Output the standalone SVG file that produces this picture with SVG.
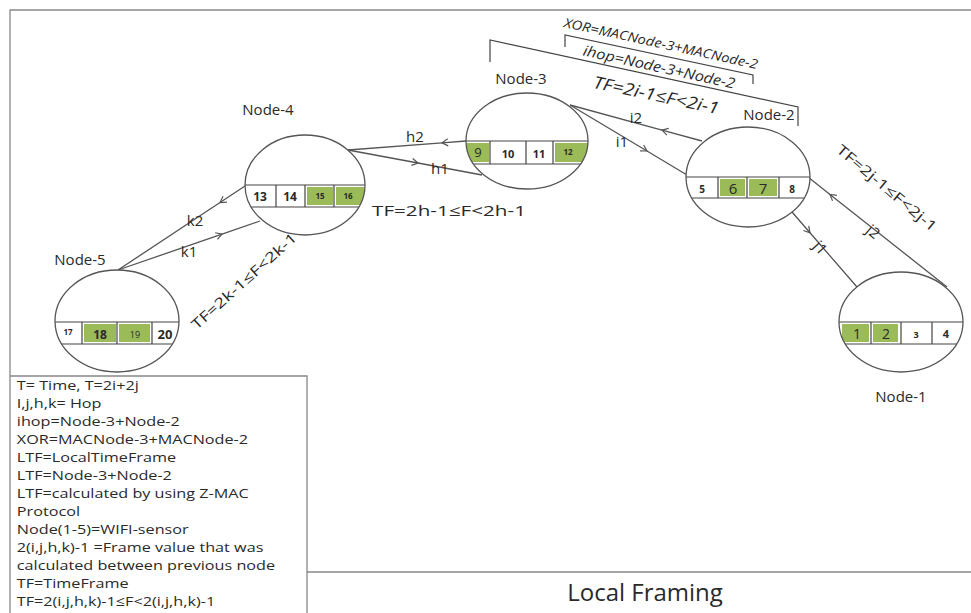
<svg xmlns="http://www.w3.org/2000/svg" width="971" height="613" viewBox="0 0 971 613">
<style>
text{font-family:"Open Sans","Noto Sans","Liberation Sans",sans-serif;fill:#2a2a2a}
.lbl{font-size:15px;text-anchor:middle}
.leg{font-size:13.5px}
.num{text-anchor:middle;font-weight:700}
.ell{fill:none;stroke:#555;stroke-width:1.3}
.bg{fill:#fff;stroke:none}
.band{stroke:#444;stroke-width:1.2;fill:none}
.g{fill:#9bbb59}
.con{fill:none;stroke:#555;stroke-width:1.3;marker-mid:url(#chev)}
.frame{fill:none;stroke:#888;stroke-width:1.3}
.it{font-style:italic;text-anchor:middle}
</style>
<defs>
<marker id="chev" viewBox="-8 -5 10 10" markerWidth="10" markerHeight="10" refX="0" refY="0" orient="auto" markerUnits="userSpaceOnUse">
<path d="M-6,-3.5 L0,0 L-6,3.5" fill="none" stroke="#555" stroke-width="1.2"/>
</marker>
<clipPath id="c4"><ellipse cx="305" cy="185" rx="60" ry="50"/></clipPath>
<clipPath id="c3"><ellipse cx="527" cy="141" rx="61" ry="48"/></clipPath>
<clipPath id="c2"><ellipse cx="748" cy="177" rx="62" ry="50"/></clipPath>
<clipPath id="c1"><ellipse cx="901" cy="322" rx="62" ry="50"/></clipPath>
<clipPath id="c5"><ellipse cx="117" cy="321" rx="62" ry="51"/></clipPath>
</defs>

<g id="frame">
<path class="frame" d="M10,613 V10 H971"/>
<path class="frame" d="M10,376 H307 V613"/>
<path class="frame" d="M307,572 H971"/>
</g>

<g id="connectors">
<path class="con" d="M466,141 L442,142.8 L348,150"/>
<path class="con" d="M348,150 L418,163 L482,175"/>
<path class="con" d="M702,141 L662,130.1 L570,105"/>
<path class="con" d="M570,105 L647,151 L687,175"/>
<path class="con" d="M792,212 L810,232.8 L857,287"/>
<path class="con" d="M947,287 L830,194.4 L808,177"/>
<path class="con" d="M245,186 L220,202.5 L118,270"/>
<path class="con" d="M118,270 L222,234.1 L260,221"/>
<text class="lbl" x="415" y="142">h2</text>
<text class="lbl" x="440" y="174">h1</text>
<text class="lbl" x="636" y="123">i2</text>
<text class="lbl" x="622" y="147">i1</text>
<text class="lbl" x="820" y="253" transform="rotate(48 820 248)">j1</text>
<text class="lbl" x="873" y="237" transform="rotate(40 873 232)">j2</text>
<text class="lbl" x="195" y="226">k2</text>
<text class="lbl" x="189" y="257">k1</text>
</g>

<g id="brackets">
<path fill="none" stroke="#444" stroke-width="1.2" d="M490,62 V40 L798,107 V126"/>
<path fill="none" stroke="#444" stroke-width="1.2" d="M565,47 V35 L753,75 V84"/>
<text class="it" x="660" y="48" font-size="13" textLength="198" lengthAdjust="spacingAndGlyphs" transform="rotate(12.3 660 48)">XOR=MACNode-3+MACNode-2</text>
<text class="it" x="658" y="72" font-size="14.5" textLength="155" lengthAdjust="spacingAndGlyphs" transform="rotate(12.5 658 72)">ihop=Node-3+Node-2</text>
<text class="it" x="655" y="101" font-size="17" textLength="128" lengthAdjust="spacingAndGlyphs" transform="rotate(12 655 101)">TF=2i-1≤F&lt;2i-1</text>
</g>

<g id="tf-labels">
<text x="372" y="216" font-size="15" textLength="154" lengthAdjust="spacingAndGlyphs">TF=2h-1≤F&lt;2h-1</text>
<text x="244" y="286" font-size="14" text-anchor="middle" textLength="136" lengthAdjust="spacingAndGlyphs" transform="rotate(-42 244 281)">TF=2k-1≤F&lt;2k-1</text>
<text x="887" y="193" font-size="14" text-anchor="middle" textLength="126" lengthAdjust="spacingAndGlyphs" transform="rotate(40 887 188)">TF=2j-1≤F&lt;2j-1</text>
</g>

<g id="node-4">
<ellipse class="bg" cx="305" cy="185" rx="60" ry="50"/>
<g clip-path="url(#c4)">
<rect class="g" x="307" y="187" width="26" height="18"/>
<rect class="g" x="336" y="187" width="28" height="18"/>
<path class="band" d="M240,185 H370 M240,207 H370 M276,185 V207 M305,185 V207 M334,185 V207"/>
</g>
<ellipse class="ell" cx="305" cy="185" rx="60" ry="50"/>
<text class="num" x="260" y="201" font-size="12">13</text>
<text class="num" x="290" y="201" font-size="12">14</text>
<text class="num" x="320" y="199" font-size="8">15</text>
<text class="num" x="348" y="199" font-size="8">16</text>
<text class="lbl" x="268" y="115">Node-4</text>
</g>

<g id="node-3">
<ellipse class="bg" cx="527" cy="141" rx="61" ry="48"/>
<g clip-path="url(#c3)">
<rect class="g" x="466" y="143" width="23" height="19"/>
<rect class="g" x="555" y="143" width="35" height="19"/>
<path class="band" d="M460,141 H595 M460,164 H595 M490,141 V164 M526,141 V164 M553,141 V164"/>
</g>
<ellipse class="ell" cx="527" cy="141" rx="61" ry="48"/>
<text x="478" y="157" font-size="13" text-anchor="middle">9</text>
<text class="num" x="508" y="158" font-size="11">10</text>
<text class="num" x="539" y="158" font-size="11">11</text>
<text class="num" x="568" y="155" font-size="8">12</text>
<text class="lbl" x="521" y="84">Node-3</text>
</g>

<g id="node-2">
<ellipse class="bg" cx="748" cy="177" rx="62" ry="50"/>
<g clip-path="url(#c2)">
<rect class="g" x="720" y="179" width="25" height="17"/>
<rect class="g" x="749" y="179" width="28" height="17"/>
<path class="band" d="M680,177 H815 M680,198 H815 M718,177 V198 M747,177 V198 M779,177 V198"/>
</g>
<ellipse class="ell" cx="748" cy="177" rx="62" ry="50"/>
<text class="num" x="702" y="193" font-size="10">5</text>
<text x="733" y="194" font-size="15" text-anchor="middle">6</text>
<text x="763" y="194" font-size="15" text-anchor="middle">7</text>
<text class="num" x="792" y="193" font-size="10">8</text>
<text class="lbl" x="769" y="120">Node-2</text>
</g>

<g id="node-1">
<ellipse class="bg" cx="901" cy="322" rx="62" ry="50"/>
<g clip-path="url(#c1)">
<rect class="g" x="842" y="324" width="27" height="18"/>
<rect class="g" x="873" y="324" width="25" height="18"/>
<path class="band" d="M835,322 H970 M835,344 H970 M871,322 V344 M901,322 V344 M932,322 V344"/>
</g>
<ellipse class="ell" cx="901" cy="322" rx="62" ry="50"/>
<text x="857" y="339" font-size="14" text-anchor="middle">1</text>
<text x="886" y="339" font-size="14" text-anchor="middle">2</text>
<text class="num" x="916" y="338" font-size="9">3</text>
<text class="num" x="946" y="338" font-size="11">4</text>
<text class="lbl" x="901" y="402">Node-1</text>
</g>

<g id="node-5">
<ellipse class="bg" cx="117" cy="321" rx="62" ry="51"/>
<g clip-path="url(#c5)">
<rect class="g" x="84" y="324" width="32" height="18"/>
<rect class="g" x="119" y="324" width="31" height="18"/>
<path class="band" d="M50,322 H185 M50,344 H185 M82,322 V344 M117,322 V344 M152,322 V344"/>
</g>
<ellipse class="ell" cx="117" cy="321" rx="62" ry="51"/>
<text class="num" x="68" y="335" font-size="8">17</text>
<text class="num" x="100" y="339" font-size="12">18</text>
<text x="135" y="338" font-size="9" text-anchor="middle">19</text>
<text class="num" x="165" y="339" font-size="13">20</text>
<text class="lbl" x="80" y="265">Node-5</text>
</g>

<g id="legend" transform="scale(1.2,1)">
<text class="leg" x="14" y="390">T= Time, T=2i+2j</text>
<text class="leg" x="14" y="408">I,j,h,k= Hop</text>
<text class="leg" x="14" y="426">ihop=Node-3+Node-2</text>
<text class="leg" x="14" y="444">XOR=MACNode-3+MACNode-2</text>
<text class="leg" x="14" y="462">LTF=LocalTimeFrame</text>
<text class="leg" x="14" y="480">LTF=Node-3+Node-2</text>
<text class="leg" x="14" y="498">LTF=calculated by using Z-MAC</text>
<text class="leg" x="14" y="516">Protocol</text>
<text class="leg" x="14" y="534">Node(1-5)=WIFI-sensor</text>
<text class="leg" x="14" y="552">2(i,j,h,k)-1 =Frame value that was</text>
<text class="leg" x="14" y="570">calculated between previous node</text>
<text class="leg" x="14" y="588">TF=TimeFrame</text>
<text class="leg" x="14" y="606">TF=2(i,j,h,k)-1≤F&lt;2(i,j,h,k)-1</text>
</g>

<g id="title">
<text x="645" y="601" font-size="24" text-anchor="middle">Local Framing</text>
</g>
</svg>
